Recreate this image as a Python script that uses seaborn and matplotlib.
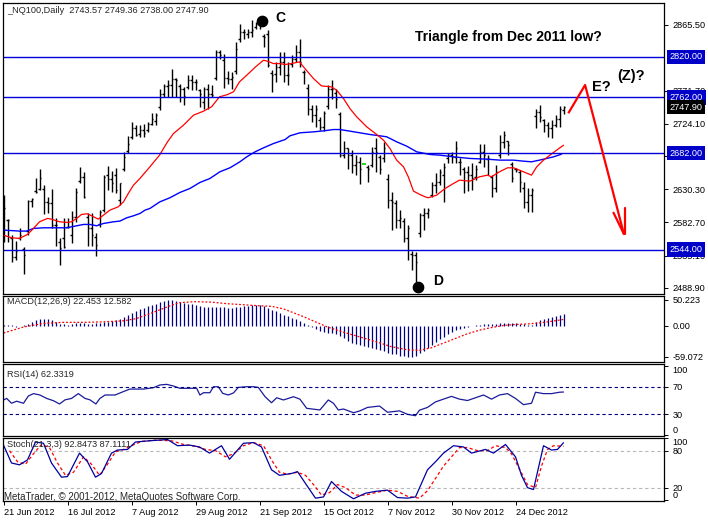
import numpy as np
import matplotlib
matplotlib.use("Agg")
import matplotlib.pyplot as plt
import seaborn as sns

# daily bars, index 0 = 21 Jun 2012
opens = [2590.0, 2586.0, 2560.0, 2533.6, 2560.0, 2545.0, 2570.0, 2613.3, 2628.0, 2630.0,
         2630.0, 2612.3, 2609.9, 2578.9, 2555.0, 2560.0, 2576.0, 2565.0, 2590.9, 2642.0,
         2648.1, 2590.0, 2575.1, 2562.0, 2580.0, 2600.0, 2650.0, 2644.8, 2650.0, 2615.0,
         2660.0, 2685.0, 2705.0, 2718.7, 2710.0, 2714.9, 2715.0, 2724.4, 2728.0, 2748.0,
         2767.4, 2778.3, 2779.3, 2788.8, 2778.0, 2774.5, 2776.0, 2786.4, 2784.1, 2772.0,
         2755.0, 2774.5, 2767.4, 2790.0, 2827.0, 2815.0, 2790.0, 2788.8, 2800.0, 2845.0,
         2855.6, 2852.0, 2855.6, 2862.0, 2867.5, 2850.0, 2852.0, 2797.0, 2795.0, 2805.5,
         2812.7, 2793.6, 2810.0, 2817.5, 2827.0, 2798.4, 2775.0, 2745.9, 2736.4, 2730.0,
         2720.0, 2750.0, 2774.5, 2768.0, 2738.0, 2680.0, 2688.7, 2679.1, 2664.8, 2669.6,
         2665.8, 2662.0, 2665.0, 2690.0, 2677.0, 2675.0, 2645.0, 2614.7, 2610.0, 2586.1,
         2585.0, 2560.0, 2538.0, 2536.0, 2568.0, 2593.3, 2595.6, 2622.0, 2636.2, 2641.0,
         2650.0, 2675.0, 2679.1, 2676.7, 2670.0, 2660.0, 2655.3, 2650.5, 2648.0, 2670.0,
         2683.9, 2674.0, 2648.0, 2631.4, 2680.0, 2698.2, 2699.0, 2667.0, 2660.0, 2655.0,
         2632.0, 2612.3, 2621.9, 2735.0, 2741.1, 2730.0, 2722.1, 2717.3, 2722.1, 2731.6,
         2743.57]
highs = [2621.9, 2587.5, 2564.6, 2556.1, 2575.1, 2547.9, 2614.7, 2617.1, 2645.7, 2660.0,
         2636.2, 2619.5, 2630.0, 2588.5, 2560.8, 2588.5, 2589.4, 2599.0, 2632.4, 2662.4,
         2655.3, 2596.6, 2595.6, 2567.0, 2600.4, 2650.5, 2663.4, 2656.7, 2661.0, 2639.5,
         2683.9, 2706.3, 2726.8, 2723.0, 2722.1, 2724.4, 2726.8, 2738.8, 2739.7, 2774.5,
         2781.7, 2786.4, 2802.2, 2790.3, 2781.7, 2776.9, 2793.6, 2793.6, 2788.8, 2774.5,
         2776.9, 2781.7, 2779.3, 2830.3, 2829.4, 2824.6, 2799.8, 2798.4, 2841.3, 2867.5,
         2860.4, 2860.4, 2872.3, 2869.9, 2874.7, 2853.2, 2858.0, 2800.7, 2812.7, 2827.0,
         2827.0, 2812.7, 2822.2, 2836.5, 2846.1, 2801.7, 2781.7, 2750.7, 2750.7, 2734.0,
         2742.6, 2780.2, 2786.4, 2774.5, 2741.1, 2699.2, 2689.6, 2686.3, 2679.1, 2676.7,
         2665.8, 2664.8, 2691.0, 2703.0, 2679.1, 2698.2, 2651.5, 2626.7, 2614.7, 2600.4,
         2588.5, 2578.9, 2541.7, 2540.8, 2595.6, 2602.8, 2603.8, 2641.0, 2652.9, 2660.0,
         2667.2, 2681.5, 2683.9, 2699.2, 2674.4, 2662.4, 2663.4, 2668.6, 2664.8, 2695.8,
         2695.8, 2679.1, 2650.5, 2664.8, 2707.7, 2713.5, 2699.2, 2669.6, 2661.0, 2657.7,
         2641.0, 2631.4, 2632.4, 2745.9, 2750.7, 2731.6, 2726.8, 2729.2, 2736.4, 2749.2,
         2749.36]
lows = [2555.1, 2555.1, 2526.5, 2528.9, 2557.5, 2508.8, 2564.6, 2605.2, 2624.3, 2629.0,
        2594.2, 2595.6, 2574.2, 2549.4, 2521.7, 2545.6, 2574.2, 2552.7, 2583.7, 2639.5,
        2618.1, 2548.9, 2549.4, 2535.1, 2576.6, 2598.0, 2629.0, 2626.7, 2625.2, 2607.6,
        2656.2, 2682.5, 2702.0, 2706.3, 2705.4, 2705.4, 2711.6, 2722.1, 2722.1, 2743.5,
        2762.6, 2762.6, 2762.6, 2762.6, 2755.4, 2750.7, 2774.5, 2772.1, 2772.1, 2748.3,
        2745.9, 2745.9, 2762.6, 2786.4, 2817.5, 2775.5, 2781.7, 2774.5, 2796.0, 2841.3,
        2846.1, 2847.0, 2848.5, 2860.4, 2860.4, 2834.1, 2805.5, 2769.8, 2784.1, 2793.6,
        2784.1, 2779.3, 2805.5, 2812.7, 2805.5, 2781.7, 2736.4, 2726.8, 2719.7, 2714.9,
        2713.5, 2745.9, 2760.2, 2747.3, 2676.7, 2674.4, 2660.0, 2653.8, 2650.5, 2637.1,
        2665.8, 2641.0, 2662.4, 2655.3, 2651.5, 2669.6, 2602.8, 2571.8, 2574.2, 2574.2,
        2555.1, 2528.9, 2514.6, 2496.9, 2562.3, 2571.8, 2588.5, 2619.5, 2624.3, 2636.2,
        2612.3, 2667.2, 2667.2, 2667.2, 2650.5, 2624.3, 2627.6, 2629.0, 2643.3, 2667.2,
        2662.4, 2650.5, 2619.5, 2626.7, 2674.4, 2688.7, 2679.1, 2640.0, 2655.3, 2626.7,
        2602.8, 2598.0, 2598.0, 2717.3, 2726.8, 2712.5, 2705.4, 2703.9, 2719.7, 2719.7,
        2738.0]
closes = [2602.8, 2585.6, 2533.6, 2541.7, 2564.6, 2536.0, 2613.3, 2616.2, 2625.7, 2645.7,
          2612.3, 2609.9, 2578.9, 2578.9, 2545.6, 2547.0, 2576.6, 2590.9, 2625.7, 2648.1,
          2619.0, 2575.1, 2564.6, 2550.3, 2597.1, 2648.1, 2644.8, 2638.6, 2629.0, 2638.6,
          2676.7, 2695.8, 2718.7, 2707.7, 2714.9, 2711.1, 2724.4, 2731.6, 2737.3, 2767.4,
          2778.3, 2779.3, 2788.8, 2786.4, 2774.5, 2764.0, 2786.4, 2784.1, 2784.1, 2767.4,
          2774.5, 2767.4, 2765.9, 2827.0, 2822.2, 2790.0, 2788.8, 2791.2, 2831.8, 2855.6,
          2855.6, 2855.6, 2858.0, 2867.5, 2872.3, 2848.5, 2807.9, 2793.6, 2805.5, 2812.7,
          2793.6, 2793.6, 2817.5, 2827.0, 2812.7, 2798.4, 2745.9, 2736.4, 2745.9, 2719.7,
          2738.8, 2774.5, 2774.5, 2760.2, 2679.1, 2688.7, 2679.1, 2664.8, 2669.6, 2660.0,
          2665.8, 2660.0, 2683.9, 2683.9, 2660.0, 2688.7, 2614.7, 2612.3, 2586.1, 2588.5,
          2559.9, 2574.2, 2536.0, 2526.5, 2593.3, 2595.6, 2600.4, 2636.2, 2641.0, 2655.3,
          2662.0, 2679.1, 2676.7, 2688.7, 2669.6, 2655.3, 2650.5, 2645.7, 2660.0, 2683.9,
          2679.1, 2674.4, 2631.4, 2655.3, 2698.2, 2707.7, 2693.4, 2645.7, 2657.7, 2641.0,
          2612.3, 2621.9, 2629.0, 2741.1, 2734.0, 2722.1, 2717.3, 2722.1, 2731.6, 2745.9,
          2747.90]

# moving averages (bar index, price)
ma_fast_x = [0, 2, 4, 6, 7.5, 9, 11, 12, 14, 16, 17, 18.3, 19.5, 21, 22.5, 23.7, 25, 26.6, 28.7, 30,
             31.2, 32.5, 34.1, 36.6, 39, 41, 42.5, 45, 47.5, 50, 52, 54, 56, 57.5, 59, 61, 63, 65, 66, 67.5,
             69, 70.4, 72, 74, 75, 77.5, 79.5, 82, 83.3, 85, 86.6, 88.3, 90.8, 93.3, 95, 96.6, 98.3, 100,
             101.2, 102.5, 104.1, 105.4, 106.2, 108.3, 110.4, 112.5, 114, 116.6, 119, 121, 122, 124, 126,
             127.5, 129, 131, 132, 133.3, 135, 136.6, 138.3, 140]
ma_fast = [2564.6, 2560.8, 2559.9, 2565.6, 2574.2, 2583.7, 2588.5, 2587.5, 2583.7, 2582.8,
           2583.7, 2588.5, 2594.2, 2595.2, 2590.9, 2587.5, 2593.3, 2600.4, 2605.2, 2612.3,
           2624.3, 2636.2, 2645.7, 2662.4, 2679.1, 2698.2, 2710.1, 2722.1, 2736.4, 2742.1,
           2748.3, 2762.6, 2765.9, 2769.8, 2784.1, 2794.6, 2805.5, 2815.1, 2813.6, 2810.3,
           2810.3, 2808.9, 2810.3, 2812.7, 2805.5, 2788.8, 2778.3, 2776.9, 2772.1, 2760.2,
           2745.9, 2734.0, 2719.7, 2708.7, 2700.6, 2688.7, 2671.9, 2662.4, 2648.1, 2627.6,
           2622.8, 2619.5, 2618.1, 2621.9, 2631.4, 2638.6, 2643.3, 2641.9, 2648.1, 2650.5,
           2648.1, 2655.3, 2661.0, 2661.0, 2657.7, 2652.9, 2650.5, 2662.4, 2672.0, 2679.1,
           2686.3, 2693.4]
ma_slow_x = [0, 4, 5.8, 7.5, 10, 12.5, 15.8, 18.3, 20, 21.6, 23.3, 25, 27.5, 29.1, 30.8, 32.5, 34.1,
             35.4, 36.6, 39.1, 41.6, 44.1, 46.6, 49.1, 51.6, 54.1, 56.6, 59.1, 60.8, 62.9, 65, 67.5,
             70.4, 71.6, 74.1, 77.5, 80, 82.5, 84.1, 86.6, 89.1, 91.6, 94.1, 95.8, 98.3, 100.8, 103.3,
             105.4, 106.6, 109.1, 112.5, 116.6, 120.8, 124.1, 127.5, 130, 132, 134, 135.8, 137.5, 139.5]
ma_slow = [2571.8, 2570.4, 2570.4, 2574.2, 2575.1, 2575.1, 2575.1, 2578.0, 2579.9, 2579.9,
           2578.0, 2581.3, 2583.7, 2584.7, 2589.4, 2592.3, 2595.6, 2600.4, 2602.8, 2612.3,
           2618.1, 2625.7, 2631.4, 2640.0, 2645.7, 2655.3, 2661.0, 2669.6, 2676.7, 2683.9,
           2689.6, 2695.8, 2701.5, 2706.8, 2711.1, 2712.5, 2713.9, 2715.8, 2715.8, 2713.5,
           2711.1, 2708.7, 2706.8, 2705.4, 2698.2, 2692.0, 2683.9, 2681.5, 2680.1, 2679.1,
           2676.7, 2674.4, 2673.4, 2672.0, 2672.0, 2670.5, 2669.6, 2672.0, 2674.4, 2676.7,
           2680.5]

level_lines = [2820.0, 2762.0, 2682.0, 2544.0]
scale_prices = [2865.5, 2771.7, 2724.1, 2677.5, 2630.3, 2582.7, 2535.1, 2488.9]
last_price = 2747.90

# MACD(12,26,9)
macd_hist = [1, 2, 1, -1, 0, 1, 3, 8, 11, 13, 14, 13, 11,
             7, 4, 3, 2, 3, 5, 6, 5, 3,
             4, 5, 6, 7, 8, 9, 11, 13, 17,
             21, 25, 29, 32, 35, 38, 40, 43,
             46, 48, 50, 50, 49,
             46, 44, 43, 42, 40, 38, 37,
             36, 36, 37, 37, 36, 35, 35, 36, 37, 38,
             39, 40, 40, 40, 38,
             34, 31, 28, 25, 22,
             19, 16, 13, 10,
             6, 2, -2,
             -5, -9, -12, -13, -14, -16, -20, -24, -28, -32, -35, -37,
             -39, -41, -43, -44, -46, -49, -52, -54, -55, -57, -58, -59, -59, -58,
             -53, -48, -43, -37, -31, -26, -21, -16, -12, -8, -5, -3,
             -1, 0, 1, 2, 3, 4, 4, 4, 5, 6, 6, 5,
             5, 4, 3, 2, 2, 7, 11, 13, 15, 17, 19, 21, 22.45]
macd_sig_x = [0, 5, 10, 15, 20, 25, 30, 33, 36, 39, 42, 44, 48, 52, 56, 60, 64, 67, 70, 72,
              75, 78, 81, 85, 89, 93, 97, 101, 104, 107, 110, 113, 116, 119, 122, 125, 128, 131, 134, 137, 140]
macd_sig = [-13.5, -2, 5, 7, 7, 8, 10, 14, 22, 31, 40, 45, 47, 46, 43, 41, 39, 38, 33, 27,
            18, 8, -2, -12, -21, -30, -40, -46, -47, -42, -33, -24, -15, -8, -3, 1, 3, 4, 6, 9, 12.58]

# RSI(14)
rsi_x = [0, 0.8, 2, 3.3, 5, 6.2, 7.5, 9.1, 10.8, 12.5, 14, 15.4, 17, 18.7, 20.4, 21.6, 23.1, 24.1, 25.4, 27.9,
         30, 31.6, 35, 37.5, 39.1, 40.8, 42.5, 44.1, 48.3, 49.1, 50, 51.6, 52.5, 53.7, 54.8, 56.2, 57.5, 58.7,
         60.8, 62.5, 63.7, 65.4, 67, 68.3, 70, 72.5, 74.1, 75.8, 79.1, 81.2, 82.5, 83.7, 85, 87.5, 89.1, 91,
         94, 96, 99, 101, 103, 104, 106, 108, 110, 112, 114, 116, 118, 120, 122, 124, 126, 128, 130, 132,
         133, 135, 137, 139, 140]
rsi = [50.8, 53, 46, 49, 46, 56.5, 60, 58, 53, 49.7, 45, 51, 53, 60, 53, 51, 45, 53, 58, 58,
       63, 66.6, 66.6, 68.6, 72.5, 73.4, 71, 67.7, 67.7, 58, 61.3, 61.3, 70, 70, 60.4, 58, 61, 69,
       70, 70, 69, 55.5, 46.8, 54, 50.8, 55.5, 52, 38.7, 36.3, 50.8, 46, 36.3, 37.7, 32.3, 35, 40,
       42, 33, 35, 30, 28, 36, 40, 48, 52, 56, 52, 50, 54, 58, 52, 58, 60, 53, 44, 46,
       62, 60, 60, 62, 62.33]

# Stochastic(21,3,3)
sto_x = [0, 2, 4, 6, 8, 10, 12, 14.5, 16, 19, 21, 23, 24.5, 27, 28.5, 31, 33, 36.5, 41, 43.5,
         46.5, 49, 51.5, 54.5, 56.5, 60, 62.5, 64.5, 67, 69, 72, 73.5, 76, 78, 80, 82, 84.5, 87.5, 90.5, 93,
         96, 98.5, 101, 103, 106, 108, 110, 112.5, 115, 117, 120.5, 122.5, 125.5, 128, 129.5, 131, 132.5,
         135, 137, 138.5, 140]
sto_main = [89, 60, 57, 65, 94, 92, 60, 37, 38, 76, 62, 37, 43, 76, 81, 82, 94, 96, 98, 88,
            89, 86, 76, 88, 66, 92, 93, 86, 49, 40, 43, 46, 22, 3, 5, 30, 14, 2, 11, 14,
            16, 4, 3, 5, 49, 62, 76, 88, 86, 76, 82, 76, 90, 70, 40, 20, 17, 88, 81, 82, 92.85]
sto_sig_x = [1.5, 3.5, 5.5, 7.5, 9.5, 11.5, 13.5, 15.5, 17.5, 20, 22, 24, 26, 28, 30, 32, 34.5, 38, 42, 45,
             48, 50.5, 53, 55.5, 57.5, 60, 62.5, 65, 67, 69, 71, 73.5, 75.5, 77.5, 79.5, 81.5, 83.5, 85.5,
             88, 90.5, 93, 96, 98.5, 101, 104, 106, 108, 110, 112, 114, 116, 118.5, 121, 123, 125.5, 127,
             129, 131, 133, 134.5, 136, 137.5, 140]
sto_sig = [80, 62, 58, 75, 90, 85, 60, 40, 45, 70, 58, 40, 58, 78, 82, 88, 95, 97, 96, 90,
           87, 82, 80, 70, 75, 88, 93, 88, 65, 45, 42, 45, 40, 25, 8, 12, 25, 20, 8, 8,
           12, 16, 14, 6, 3, 15, 35, 55, 70, 85, 85, 80, 80, 88, 85, 75, 50, 25, 20, 55,
           82, 88, 87.11]

date_pos = [0, 16, 32, 48, 64, 80, 96, 112, 128]
date_labels = ['21 Jun 2012', '16 Jul 2012', '7 Aug 2012', '29 Aug 2012', '21 Sep 2012',
               '15 Oct 2012', '7 Nov 2012', '30 Nov 2012', '24 Dec 2012']

# wave projection drawn by hand on the chart (bar index, price)
proj_x = [141.2, 145.4, 155.1]
proj_y = [2739.1, 2779.6, 2566.2]

sns.set_style("white")
plt.rcParams['font.family'] = ['Liberation Sans', 'DejaVu Sans']

W, H = 708, 522
fig = plt.figure(figsize=(W / 100, H / 100), dpi=100)


def panel(top, bottom):
    return fig.add_axes([3 / W, 1 - bottom / H, 661 / W, (bottom - top) / H])


ax = panel(3, 294)
ax_macd = panel(296, 362)
ax_rsi = panel(364, 436)
ax_sto = panel(438, 501)

xl = (-0.125, 165.125)
small = 6.6
blue = '#0000dd'

for a in (ax, ax_macd, ax_rsi, ax_sto):
    a.set_xlim(*xl)
    a.set_facecolor('white')
    for s in a.spines.values():
        s.set_color('black')
        s.set_linewidth(0.9)
    a.yaxis.tick_right()
    a.tick_params(axis='y', length=3, width=0.7, pad=3, labelsize=small, colors='black')
    a.set_xticks([])
    a.set_xlabel('')
    a.set_ylabel('')

# ---- main price panel
x = np.arange(len(closes))
o, h, l, c = map(np.array, (opens, highs, lows, closes))
flat = h == l
ax.vlines(x[~flat], l[~flat], h[~flat], color='black', lw=1.0)
ax.hlines(o[~flat], x[~flat] - 0.45, x[~flat], color='black', lw=1.0)
ax.hlines(c[~flat], x[~flat], x[~flat] + 0.45, color='black', lw=1.0)
ax.hlines(c[flat], x[flat] - 0.5, x[flat] + 0.5, color='#00cc00', lw=1.2)

sns.lineplot(x=ma_slow_x, y=ma_slow, ax=ax, color='#0000ff', lw=1.0, sort=False, estimator=None)
sns.lineplot(x=ma_fast_x, y=ma_fast, ax=ax, color='#ff0000', lw=0.9, sort=False, estimator=None)
for lv in level_lines:
    ax.axhline(lv, color=blue, lw=1.0)

ax.plot(proj_x, proj_y, color='#ff0000', lw=1.6, solid_capstyle='butt')
ax.plot([152.5, proj_x[-1]], [2596.7, proj_y[-1]], color='#ff0000', lw=1.6)
ax.plot([155.4, 155.4], [2603.9, proj_y[-1]], color='#ff0000', lw=1.6)

ax.scatter([64.6, 103.7], [2871.2, 2490.8], s=55, color='black', zorder=5)
bold = dict(fontweight='bold', color='black')
ax.text(67.9, 2875.5, 'C', fontsize=10, va='center', ha='left', **bold)
ax.text(107.4, 2498.9, 'D', fontsize=10, va='center', ha='left', **bold)
ax.text(102.9, 2848.3, 'Triangle from Dec 2011 low?', fontsize=10, va='center', ha='left', **bold)
ax.text(147.1, 2776.7, 'E?', fontsize=10.5, va='center', ha='left', **bold)
ax.text(153.4, 2792.5, '(Z)?', fontsize=10.5, va='center', ha='left', **bold)
ax.text(0.006, 0.974, '_NQ100,Daily  2743.57 2749.36 2738.00 2747.90', transform=ax.transAxes,
        fontsize=small, va='center', ha='left')

ax.set_ylim(2480.3, 2897.0)
ax.set_yticks(scale_prices)
ax.set_yticklabels([f'{v:.2f}' for v in scale_prices])
ytr = ax.get_yaxis_transform()
box = 'square,pad=0.3'
for lv in level_lines:
    ax.text(1.0085, lv, f'{lv:.2f}', transform=ytr, fontsize=small, color='white', va='center', ha='left',
            zorder=10, bbox=dict(boxstyle=box, fc='#0000c8', ec='none'))
ax.text(1.0085, last_price, f'{last_price:.2f}', transform=ytr, fontsize=small, color='white', va='center',
        ha='left', zorder=11, bbox=dict(boxstyle=box, fc='black', ec='none'))

# ---- MACD
ax_macd.vlines(x, 0, macd_hist, color='#000080', lw=0.9)
sns.lineplot(x=macd_sig_x, y=macd_sig, ax=ax_macd, color='#ff0000', lw=0.9, linestyle=(0, (1.5, 1.5)),
             sort=False, estimator=None)
ax_macd.set_ylim(-69.5, 57.9)
ax_macd.set_yticks([50.223, 0, -59.072])
ax_macd.set_yticklabels(['50.223', '0.00', '-59.072'])
ax_macd.text(0.006, 0.91, 'MACD(12,26,9) 22.453 12.582', transform=ax_macd.transAxes, fontsize=small,
             va='center', ha='left')

# ---- RSI
sns.lineplot(x=rsi_x, y=rsi, ax=ax_rsi, color='#1a1a9a', lw=0.9, sort=False, estimator=None)
for lv in (70, 30):
    ax_rsi.axhline(lv, color='#000080', lw=0.8, linestyle=(0, (3, 2.5)))
ax_rsi.set_ylim(-1.4, 102.9)
ax_rsi.set_yticks([100, 70, 30, 0])
ax_rsi.set_yticklabels(['100', '70', '30', '0'])
ax_rsi.text(0.006, 0.86, 'RSI(14) 62.3319', transform=ax_rsi.transAxes, fontsize=small, va='center', ha='left')

# ---- Stochastic
for lv in (80, 20):
    ax_sto.axhline(lv, color='#b8b8b8', lw=0.8, linestyle=(0, (3, 2.5)))
ax_sto.text(0.006, 0.89, 'Stoch(21,3,3) 92.8473 87.1111', transform=ax_sto.transAxes, fontsize=small,
            va='center', ha='left')
sns.lineplot(x=sto_sig_x, y=sto_sig, ax=ax_sto, color='#ff0000', lw=0.9, linestyle=(0, (2.5, 2)),
             sort=False, estimator=None)
sns.lineplot(x=sto_x, y=sto_main, ax=ax_sto, color='#0000a0', lw=0.9, sort=False, estimator=None)
ax_sto.set_ylim(-1.6, 100.5)
ax_sto.set_yticks([100, 80, 20, 0])
ax_sto.set_yticklabels(['100', '80', '20', '0'])
ax_sto.text(0.002, 0.06, 'MetaTrader, \u00a9 2001-2012, MetaQuotes Software Corp.', transform=ax_sto.transAxes,
            fontsize=7, va='center', ha='left')
ax_sto.set_xticks(date_pos)
ax_sto.set_xticklabels(date_labels, ha='left')
ax_sto.tick_params(axis='x', length=3, width=0.7, pad=2, labelsize=small, colors='black', bottom=True)

for a in (ax_rsi, ax_sto):
    lab = a.get_yticklabels()
    lab[0].set_va('top')
    lab[-1].set_va('bottom')

for a in (ax, ax_macd, ax_rsi, ax_sto):
    a.set_xlim(*xl)

fig.savefig('out.png', dpi=100, facecolor='white')
